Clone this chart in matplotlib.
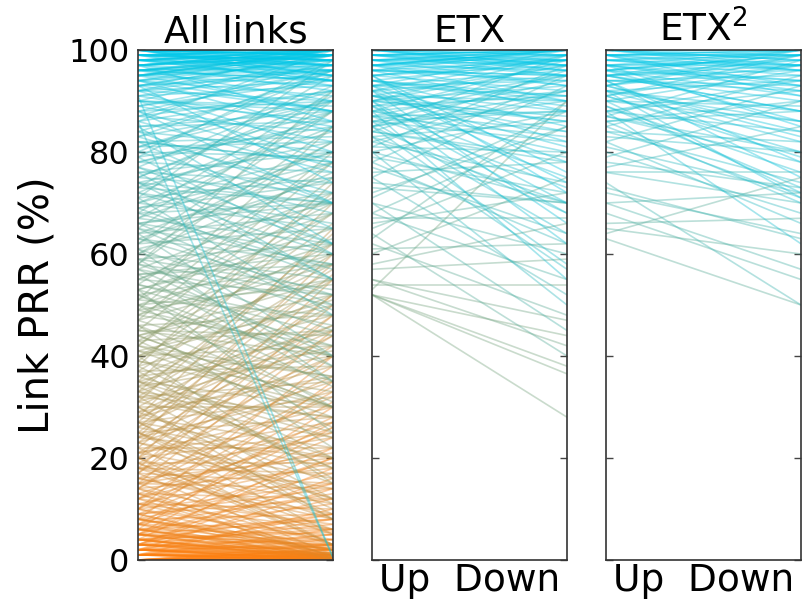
import matplotlib
matplotlib.use("Agg")
import matplotlib.pyplot as plt
from matplotlib.colors import LinearSegmentedColormap
import numpy as np

# ---------------- data (Link PRR %, Up -> Down) ----------------
all_up = [
    0, 0, 0, 0, 0, 0, 0, 0, 0, 0,
    1, 1, 1, 1, 1, 1, 1, 1, 1, 1,
    2, 2, 2, 2, 2, 2, 2, 2, 3, 3,
    3, 3, 3, 3, 3, 4, 4, 4, 4, 4,
    5, 5, 5, 5, 5, 6, 6, 6, 6, 7,
    7, 7, 7, 8, 8, 8, 8, 9, 9, 9,
    10, 10, 10, 10, 11, 11, 11, 12, 12, 12,
    13, 13, 13, 14, 14, 14, 15, 15, 15, 15,
    16, 16, 16, 17, 17, 17, 18, 18, 18, 19,
    19, 19, 20, 20, 20, 21, 21, 21, 22, 22,
    23, 23, 23, 24, 24, 24, 25, 25, 25, 26,
    26, 27, 27, 27, 28, 28, 28, 29, 29, 30,
    30, 30, 31, 31, 32, 32, 32, 33, 33, 34,
    34, 35, 35, 35, 36, 36, 37, 37, 38, 38,
    39, 39, 40, 40, 40, 41, 41, 42, 42, 43,
    43, 44, 44, 45, 45, 46, 46, 47, 47, 48,
    48, 49, 49, 50, 50, 51, 51, 52, 52, 53,
    53, 54, 54, 55, 55, 56, 56, 57, 57, 58,
    58, 59, 59, 60, 60, 61, 61, 62, 62, 63,
    63, 64, 64, 65, 65, 66, 66, 67, 67, 68,
    68, 69, 69, 70, 70, 71, 71, 72, 72, 73,
    73, 74, 74, 75, 75, 76, 76, 77, 77, 78,
    78, 79, 79, 80, 80, 81, 81, 82, 82, 83,
    83, 84, 84, 85, 85, 86, 86, 86, 87, 87,
    88, 88, 88, 89, 89, 90, 90, 90, 91, 91,
    91, 92, 92, 92, 92, 93, 93, 93, 93, 94,
    94, 94, 94, 95, 95, 95, 95, 95, 96, 96,
    96, 96, 96, 97, 97, 97, 97, 97, 97, 98,
    98, 98, 98, 98, 98, 99, 99, 99, 99, 99,
    99, 99, 100, 100, 100, 100, 100, 100, 100, 100,
    100, 100, 100, 100, 100, 99, 98, 97, 96, 95,
    0, 0, 0, 1, 1, 2, 2, 3, 3, 4,
    4, 5, 5, 6, 6, 7, 8, 9, 10, 11,
    12, 13, 14, 15, 16, 17, 18, 19, 20, 21,
    22, 23, 24, 25, 26, 27, 28, 29, 30, 31,
    32, 33, 34, 35, 36, 37, 38, 39, 40, 41,
    42, 43, 44, 45, 46, 47, 48, 49, 50, 51,
    52, 53, 54, 55, 56, 57, 58, 59, 60, 61,
    62, 63, 64, 65, 66, 67, 68, 69, 70, 71,
    72, 73, 74, 75, 76, 77, 78, 79, 80, 81,
    82, 83, 84, 85, 86, 87, 88, 89, 90, 91,
    92, 93, 94, 95, 96, 97, 98, 99, 100, 100,
    0, 1, 2, 3, 5, 8, 12, 18, 25, 33,
    42, 50, 58, 66, 74, 82, 90, 96, 99, 100,
    2, 4, 6, 9, 14, 20, 27, 35, 44, 53,
    0, 0, 0, 0, 0, 1, 1, 1, 2, 2,
    3, 3, 4, 4, 5, 5, 6, 7, 8, 10,
    97, 98, 99, 100, 100, 99, 98, 97, 96, 95,
    93, 94, 95, 96, 97, 98, 99, 100, 100, 100,
]
all_down = [
    0, 0.5, 1, 0, 2, 0.3, 0, 1.5, 0.8, 3,
    0, 1, 2, 0.5, 4, 1.5, 6, 0, 3, 10,
    1, 0, 2.5, 5, 8, 14, 0.5, 3, 2, 0,
    4, 7, 12, 18, 1, 0, 3, 6, 9, 22,
    1, 4, 8, 15, 26, 2, 5, 11, 30, 0,
    6, 13, 20, 3, 9, 17, 35, 1, 12, 24,
    4, 15, 28, 40, 2, 10, 19, 7, 22, 33,
    0, 12, 25, 6, 18, 38, 3, 14, 27, 45,
    9, 20, 32, 1, 15, 42, 11, 24, 50, 6,
    19, 36, 8, 25, 55, 14, 30, 44, 3, 22,
    12, 35, 48, 20, 40, 60, 5, 28, 52, 18,
    44, 10, 32, 58, 22, 38, 65, 15, 46, 30,
    50, 8, 24, 42, 35, 55, 12, 28, 62, 40,
    18, 45, 30, 70, 25, 52, 38, 60, 20, 48,
    33, 66, 42, 15, 58, 28, 50, 36, 72, 45,
    62, 30, 55, 40, 75, 48, 22, 58, 35, 68,
    42, 55, 80, 30, 62, 48, 70, 38, 58, 65,
    25, 44, 78, 52, 68, 35, 60, 72, 50, 85,
    45, 62, 38, 55, 82, 70, 48, 65, 88, 52,
    75, 40, 68, 58, 90, 72, 50, 80, 62, 70,
    92, 55, 78, 65, 85, 48, 75, 88, 60, 70,
    95, 62, 82, 72, 90, 55, 80, 68, 93, 76,
    88, 60, 85, 70, 96, 82, 92, 65, 78, 90,
    72, 95, 80, 88, 62, 0.5, 92, 76, 98, 84,
    70, 90, 96, 82, 94, 78, 99, 88, 0.5, 93,
    85, 97, 90, 80, 100, 95, 88, 99, 74, 96,
    91, 100, 84, 98, 93, 88, 99, 96, 100, 94,
    97, 90, 99, 100, 95, 98, 92, 99, 86, 100,
    97, 99, 94, 100, 96, 100, 98, 95, 99, 97,
    100, 93, 99, 100, 98, 96, 100, 97, 99, 94,
    100, 99, 95, 100, 98, 100, 99, 100, 98, 100,
    0.2, 1.2, 2.2, 0.7, 5, 1, 9, 2.5, 16, 0.3,
    5.5, 2.8, 20, 0.4, 8, 27, 2, 14, 31, 6,
    26, 3, 34, 21, 8, 48, 17, 3, 40, 27,
    52, 16, 33, 9, 56, 20, 45, 36, 11, 64,
    28, 46, 57, 24, 41, 16, 74, 30, 51, 36,
    68, 26, 52, 44, 31, 78, 60, 40, 54, 85,
    34, 63, 46, 71, 58, 40, 92, 53, 76, 35,
    82, 58, 78, 49, 70, 88, 57, 74, 80, 98,
    66, 84, 55, 91, 74, 62, 86, 98, 79, 90,
    83, 96, 70, 86, 100, 92, 77, 96, 89, 97,
    94, 99, 88, 100, 96, 99, 100, 98, 97, 99,
    0.1, 0, 0.2, 1, 0.3, 2, 0.8, 5, 12, 20,
    30, 40, 52, 60, 70, 78, 86, 94, 98, 99,
    0, 0.5, 1, 0.2, 0.5, 3, 8, 18, 30, 42,
    0, 0.2, 0.6, 1, 2, 0, 0.4, 1, 0.2, 1.5,
    0.5, 2, 0, 1, 0.3, 3, 0.6, 2, 0.4, 1,
    99, 100, 100, 99, 100, 98, 97, 100, 99, 100,
    96, 98, 97, 99, 100, 94, 97, 95, 100, 99,
]

etx_up = [
    52, 52, 52, 52, 53, 54, 55, 55, 57, 58,
    60, 61, 62, 63, 64, 65, 66, 67, 68, 68,
    70, 70, 71, 72, 73, 74, 75, 75, 76, 77,
    78, 78, 79, 80, 80, 81, 81, 82, 82, 83,
    83, 84, 84, 85, 85, 85, 86, 86, 87, 87,
    88, 88, 88, 89, 89, 90, 90, 90, 90, 91,
    91, 91, 92, 92, 92, 93, 93, 93, 94, 94,
    94, 95, 95, 95, 95, 96, 96, 96, 96, 97,
    97, 97, 97, 98, 98, 98, 98, 99, 99, 99,
    99, 100, 100, 100, 100, 100, 100, 99, 98, 97,
    80, 85, 88, 90, 92, 86, 83, 95, 89, 93,
    85, 86, 87, 88, 89, 90, 91, 92, 93, 94,
    95, 96, 97, 98, 99, 100, 100, 99, 98, 97,
    84, 87, 90, 93, 96, 99, 91, 94, 97, 100,
]
etx_down = [
    44, 38, 36.5, 28, 90, 54, 47, 42, 59, 66,
    75, 62, 48, 90, 40, 80, 72, 67, 55, 85,
    60, 45, 88, 85, 70, 70, 52, 93, 78, 64,
    62, 95, 72, 88, 70, 97, 80, 74, 92, 86,
    70, 96, 78, 90, 68, 99, 82, 94, 73, 88,
    98, 80, 92, 75, 95, 86, 99, 70, 93, 84,
    97, 90, 78, 95, 88, 100, 82, 96, 91, 98,
    85, 99, 92, 76, 97, 100, 94, 88, 98, 96,
    90, 99, 100, 95, 98, 100, 93, 97, 100, 99,
    95, 100, 98, 96, 99, 100, 97, 100, 99, 100,
    50, 58, 55, 62, 66, 64, 57, 72, 68, 74,
    92, 88, 95, 84, 91, 97, 86, 99, 94, 90,
    98, 95, 100, 97, 98, 99, 100, 96, 100, 98,
    79, 83, 87, 91, 95, 100, 81, 89, 93, 97,
]

etx2_up = [
    63, 64, 65, 66, 68, 70, 70, 72, 73, 74,
    76, 76, 77, 78, 79, 80, 81, 82, 83, 84,
    85, 85, 86, 87, 87, 88, 88, 89, 90, 90,
    91, 91, 92, 92, 93, 93, 93, 94, 94, 95,
    95, 95, 96, 96, 96, 97, 97, 97, 98, 98,
    98, 99, 99, 99, 100, 100, 100, 100, 100, 99,
    82, 86, 90, 94, 97, 92, 88, 95, 99, 84,
    86, 88, 90, 91, 92, 93, 94, 95, 96, 97,
    98, 99, 100, 100, 99, 98, 97, 96, 95, 94,
    89, 91, 93, 95, 97, 99, 100, 87, 92, 96,
]
etx2_down = [
    50, 75, 60, 67, 55, 57, 72, 64, 63, 50,
    76, 70, 85, 73, 90, 68, 72, 93, 80, 74,
    95, 71, 88, 78, 98, 84, 92, 73, 96, 86,
    99, 80, 94, 88, 100, 83, 97, 92, 75, 98,
    90, 100, 94, 99, 86, 97, 100, 92, 99, 95,
    100, 97, 100, 93, 99, 100, 96, 98, 100, 99,
    66, 70, 72, 78, 85, 71, 62, 88, 91, 82,
    90, 94, 89, 97, 86, 99, 93, 96, 100, 98,
    97, 99, 100, 98, 100, 96, 94, 99, 97, 95,
    76, 79, 84, 88, 93, 96, 97, 80, 82, 91,
]

titles = ["All links", "ETX", r"ETX$^2$"]
yticks = [0, 20, 40, 60, 80, 100]

# ---------------- figure ----------------
cmap = LinearSegmentedColormap.from_list("prr", ["#ff7f0e", "#00c8ea"])

fig = plt.figure(figsize=(8.04, 6.07), dpi=100)
lefts = [138 / 804, 372 / 804, 606 / 804]
width = 195 / 804
bottom = 1 - 560 / 607
height = 510 / 607

panels = [(all_up, all_down), (etx_up, etx_down), (etx2_up, etx2_down)]
for i, ((up, down), title) in enumerate(zip(panels, titles)):
    ax = fig.add_axes([lefts[i], bottom, width, height])
    n = min(len(up), len(down))
    order = np.argsort(np.asarray(up[:n]), kind="stable")
    for k in order:
        u, d = up[k], down[k]
        ax.plot([0, 1], [u, d], color=cmap(u / 100.0), alpha=0.4,
                lw=1.2, solid_capstyle="butt")
    ax.set_xlim(0, 1)
    ax.set_ylim(0, 100)
    ax.set_yticks(yticks)
    ax.set_xticks([])
    ax.tick_params(axis="y", direction="in", length=5, width=1,
                   left=True, right=True, labelsize=23, pad=6,
                   color="#444444")
    if i > 0:
        ax.set_yticklabels([])
        ax.set_xlabel("Up  Down", fontsize=27, labelpad=2)
    ax.set_title(title, fontsize=27, pad=4)
    for sp in ax.spines.values():
        sp.set_color("#333333")
        sp.set_linewidth(1.2)
    if i == 0:
        ax.set_ylabel("Link PRR (%)", fontsize=29, labelpad=8)

fig.savefig("out.png", dpi=100)
